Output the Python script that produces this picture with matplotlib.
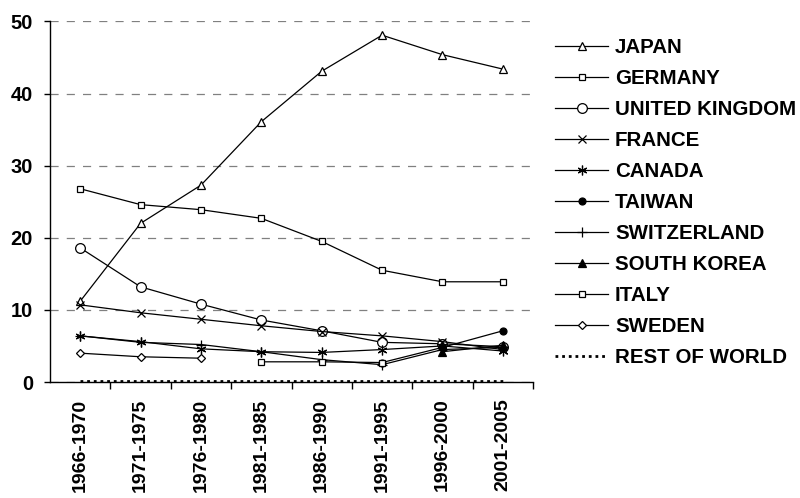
import numpy as np
import matplotlib
matplotlib.use("Agg")
import matplotlib.pyplot as plt

plt.rcParams['font.family'] = ['Liberation Sans', 'DejaVu Sans']
plt.rcParams['font.weight'] = 'bold'

nan = np.nan
periods = ["1966-1970", "1971-1975", "1976-1980", "1981-1985",
           "1986-1990", "1991-1995", "1996-2000", "2001-2005"]

japan = [11.2, 22.0, 27.3, 36.1, 43.1, 48.1, 45.4, 43.4]
germany = [26.8, 24.6, 23.9, 22.7, 19.5, 15.5, 13.9, 13.9]
uk = [18.6, 13.2, 10.8, 8.6, 7.1, 5.5, 5.3, 4.9]
france = [10.7, 9.6, 8.7, 7.8, 7.0, 6.4, 5.6, 4.5]
canada = [6.4, 5.6, 4.6, 4.2, 4.1, 4.5, 5.0, 4.3]
taiwan = [nan, nan, nan, nan, nan, 2.7, 4.8, 7.1]
switzerland = [6.4, 5.5, 5.2, 4.2, 3.1, 2.4, 4.5, 4.8]
south_korea = [nan, nan, nan, nan, nan, nan, 4.2, 5.1]
italy = [nan, nan, nan, 2.8, 2.8, 2.7, nan, nan]
sweden = [4.0, 3.5, 3.3, nan, nan, nan, nan, nan]
rest_of_world = [0.2, 0.2, 0.2, 0.2, 0.2, 0.2, 0.2, 0.2]
yticks = [0, 10, 20, 30, 40, 50]

series = [
    ("JAPAN", japan, dict(marker='^', ms=6, mfc='white')),
    ("GERMANY", germany, dict(marker='s', ms=4.5, mfc='white')),
    ("UNITED KINGDOM", uk, dict(marker='o', ms=7, mfc='white')),
    ("FRANCE", france, dict(marker='x', ms=6)),
    ("CANADA", canada, dict(marker=(6, 2, 0), ms=7)),
    ("TAIWAN", taiwan, dict(marker='o', ms=5, mfc='black')),
    ("SWITZERLAND", switzerland, dict(marker='+', ms=7)),
    ("SOUTH KOREA", south_korea, dict(marker='^', ms=5.5, mfc='black')),
    ("ITALY", italy, dict(marker='s', ms=4.5, mfc='white')),
    ("SWEDEN", sweden, dict(marker='D', ms=4.2, mfc='white')),
]

fig = plt.figure(figsize=(8, 4.98), dpi=100)
ax = fig.add_axes([50/800, 1-382/498, (533-50)/800, (382-21.5)/498])

x = np.arange(len(periods))
handles = []
for name, vals, kw in series:
    ln, = ax.plot(x, vals, color='black', lw=0.9, mec='black', mew=0.9,
                  label=name, **kw)
    handles.append(ln)
row, = ax.plot(x, rest_of_world, color='black', lw=2.0,
               linestyle=(0, (1, 1.4)), label="REST OF WORLD")
handles.append(row)

ax.set_xlim(-0.5, len(periods) - 0.5)
ax.set_ylim(0, 50)
ax.set_yticks(yticks)
ax.set_yticklabels([str(v) for v in yticks], fontsize=14.5,
                   family='Liberation Sans', fontweight='bold')
ax.set_xticks(x)
ax.set_xticklabels(periods, rotation=90, fontsize=14,
                   family='Liberation Sans', fontweight='bold',
                   va='top', ha='center')
ax.set_xticks(np.arange(len(periods)) + 0.5, minor=True)
ax.tick_params(axis='x', which='major', length=0, pad=12)
ax.tick_params(axis='x', which='minor', length=5, width=1, direction='out')
ax.tick_params(axis='y', length=4.3, width=1, direction='out', pad=8)

ax.yaxis.grid(True, color='#808080', lw=0.9, linestyle=(0, (6.5, 6.5)))
ax.set_axisbelow(True)
for s in ['top', 'right']:
    ax.spines[s].set_visible(False)
for s in ['left', 'bottom']:
    ax.spines[s].set_linewidth(1.0)
    ax.spines[s].set_color('black')

leg = fig.legend(handles=handles, loc='upper left',
                 bbox_to_anchor=(555/800, 1-38/498), frameon=False,
                 borderpad=0, borderaxespad=0, handlelength=2.6,
                 handletextpad=0.32, labelspacing=0.585,
                 prop=dict(family='Liberation Sans', weight='bold', size=14.8))
for t in leg.get_texts():
    t.set_fontweight('bold')

fig.savefig("out.png", dpi=100)
